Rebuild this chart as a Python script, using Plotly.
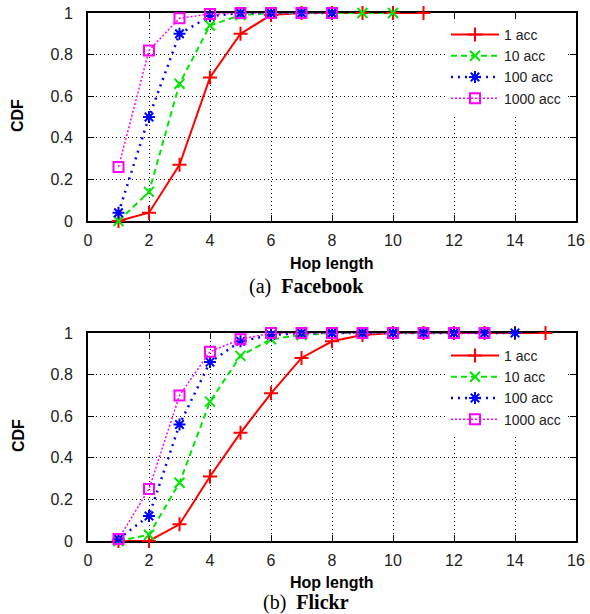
import plotly.graph_objects as go

# ---------------- data ----------------
series_names = ["1 acc", "10 acc", "100 acc", "1000 acc"]

fb_hops_1 = list(range(1, 12))
fb_1acc = [0.0, 0.04, 0.27, 0.69, 0.90, 0.99, 1.0, 1.0, 1.0, 1.0, 1.0]
fb_hops_10 = list(range(1, 11))
fb_10acc = [0.0, 0.14, 0.66, 0.94, 0.99, 1.0, 1.0, 1.0, 1.0, 1.0]
fb_hops_100 = list(range(1, 9))
fb_100acc = [0.04, 0.50, 0.90, 0.985, 1.0, 1.0, 1.0, 1.0]
fb_hops_1000 = list(range(1, 9))
fb_1000acc = [0.26, 0.82, 0.975, 0.995, 1.0, 1.0, 1.0, 1.0]

fl_hops_1 = list(range(1, 16))
fl_1acc = [0.0, 0.0, 0.08, 0.31, 0.52, 0.71, 0.88, 0.96, 0.99, 1.0, 1.0, 1.0, 1.0, 1.0, 1.0]
fl_hops_10 = list(range(1, 13))
fl_10acc = [0.0, 0.03, 0.28, 0.67, 0.89, 0.97, 0.99, 1.0, 1.0, 1.0, 1.0, 1.0]
fl_hops_100 = list(range(1, 15))
fl_100acc = [0.01, 0.12, 0.56, 0.86, 0.96, 0.99, 1.0, 1.0, 1.0, 1.0, 1.0, 1.0, 1.0, 1.0]
fl_hops_1000 = list(range(1, 14))
fl_1000acc = [0.01, 0.25, 0.70, 0.91, 0.97, 1.0, 1.0, 1.0, 1.0, 1.0, 1.0, 1.0, 1.0]

x_ticks = list(range(0, 17, 2))
y_ticks = [0, 0.2, 0.4, 0.6, 0.8, 1]
y_ticklabels = ["0", "0.2", "0.4", "0.6", "0.8", "1"]

# ---------------- styles ----------------
colors = ["#ff0000", "#00e600", "#0000ff", "#ff00ff"]
dashes = ["solid", "6px,4px", "2px,5px", "2px,2px"]
widths = [2, 2, 2.5, 1.5]
symbols = ["cross-thin-open", "x-thin-open", "asterisk-open", "square-open"]
msizes = [10, 10, 10, 10]

W, H = 590, 614
fig = go.Figure()

panels = [
    ("x", "y", "legend",
     [(fb_hops_1, fb_1acc), (fb_hops_10, fb_10acc), (fb_hops_100, fb_100acc), (fb_hops_1000, fb_1000acc)]),
    ("x2", "y2", "legend2",
     [(fl_hops_1, fl_1acc), (fl_hops_10, fl_10acc), (fl_hops_100, fl_100acc), (fl_hops_1000, fl_1000acc)]),
]

for xa, ya, lg, data in panels:
    for i, (xs, ys) in enumerate(data):
        fig.add_trace(go.Scatter(
            x=xs, y=ys, mode="lines+markers", name=series_names[i],
            xaxis=xa, yaxis=ya, legend=lg, cliponaxis=False,
            line=dict(color=colors[i], width=widths[i], dash=dashes[i]),
            marker=dict(symbol=symbols[i], size=msizes[i], color=colors[i],
                        line=dict(color=colors[i], width=2)),
        ))

def px_x(p):
    return p / W

def px_y(p):
    return 1 - p / H

tick_font = dict(family="Liberation Sans, Arial, sans-serif", size=16, color="#222")
axis_common = dict(
    showline=True, mirror="ticks", linecolor="black", linewidth=2,
    ticks="inside", ticklen=6, tickwidth=1, tickcolor="black",
    showgrid=True, gridcolor="black", gridwidth=1, griddash="1px,3px",
    zeroline=False, layer="below traces", tickfont=tick_font,
)

xd = [px_x(88), px_x(576)]
top_dom = [px_y(221), px_y(13)]
bot_dom = [px_y(541), px_y(333)]

legend_font = dict(family="Liberation Sans, Arial, sans-serif", size=14, color="#222")
legend_common = dict(xanchor="right", yanchor="top", bgcolor="white", borderwidth=0,
                     tracegroupgap=0, itemwidth=48, font=legend_font)

fig.update_layout(
    width=W, height=H,
    margin=dict(l=0, r=0, t=0, b=0, autoexpand=False),
    paper_bgcolor="white", plot_bgcolor="white",
    showlegend=True,
    xaxis=dict(domain=xd, range=[0, 16], tickvals=x_ticks, anchor="y",
               ticklabelstandoff=4, **axis_common),
    yaxis=dict(domain=top_dom, range=[0, 1], tickvals=y_ticks, ticktext=y_ticklabels,
               anchor="x", ticklabelstandoff=10, **axis_common),
    xaxis2=dict(domain=xd, range=[0, 16], tickvals=x_ticks, anchor="y2",
                ticklabelstandoff=4, **axis_common),
    yaxis2=dict(domain=bot_dom, range=[0, 1], tickvals=y_ticks, ticktext=y_ticklabels,
                anchor="x2", ticklabelstandoff=10, **axis_common),
    legend=dict(x=px_x(566), y=px_y(19), **legend_common),
    legend2=dict(x=px_x(566), y=px_y(340), **legend_common),
)

sans_bold = dict(family="Liberation Sans, Arial, sans-serif", size=16, color="black")
serif = dict(family="Liberation Serif, Times New Roman, serif", size=20, color="black")

annos = [
    dict(text="<b>Hop length</b>", x=px_x(332), y=px_y(263), font=sans_bold),
    dict(text="<b>Hop length</b>", x=px_x(332), y=px_y(582), font=sans_bold),
    dict(text="(a)  <b>Facebook</b>", x=px_x(306), y=px_y(286), font=serif),
    dict(text="(b)  <b>Flickr</b>", x=px_x(306), y=px_y(602), font=serif),
    dict(text="<b>CDF</b>", x=px_x(18), y=px_y(116), font=sans_bold, textangle=-90),
    dict(text="<b>CDF</b>", x=px_x(18), y=px_y(436), font=sans_bold, textangle=-90),
]
for a in annos:
    fig.add_annotation(xref="paper", yref="paper", showarrow=False,
                       xanchor="center", yanchor="middle", **a)

fig.write_html("out.html")
